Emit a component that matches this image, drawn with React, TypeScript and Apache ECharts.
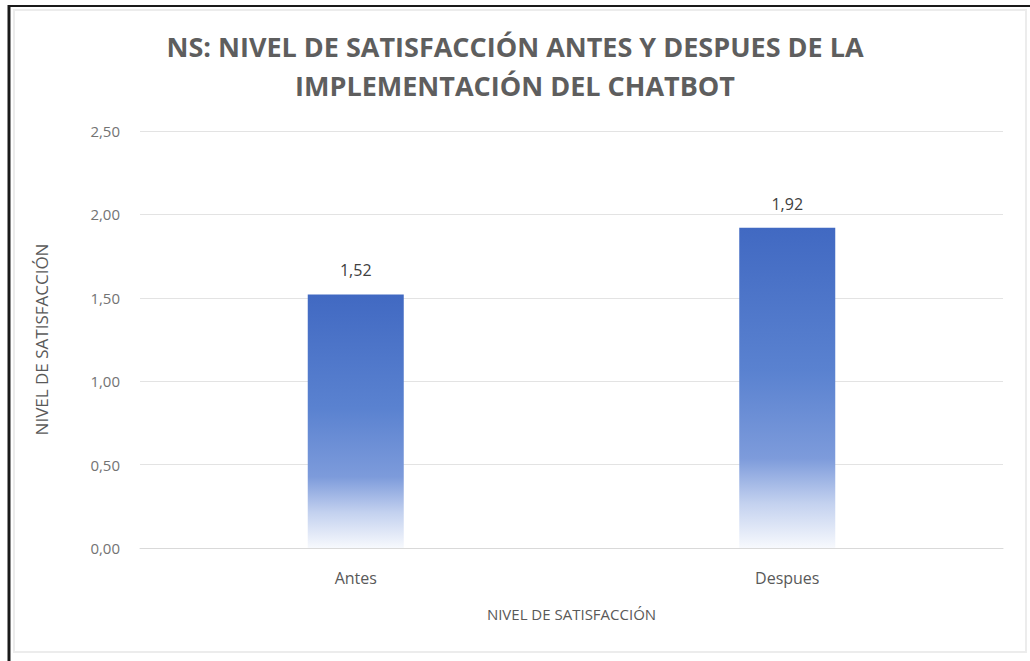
import React, { useEffect, useRef } from "react";
import * as echarts from "echarts";

const categories = ["Antes", "Despues"];
const values = [1.52, 1.92];
const yTicks = [0, 0.5, 1, 1.5, 2, 2.5];
const titleText = "NS: NIVEL DE SATISFACCIÓN ANTES Y DESPUES DE LA\nIMPLEMENTACIÓN DEL CHATBOT";
const xAxisName = "NIVEL DE SATISFACCIÓN";
const yAxisName = "NIVEL DE SATISFACCIÓN";

const fmt = (v: number) => v.toFixed(2).replace(".", ",");

export default function App() {
  const ref = useRef<HTMLDivElement>(null);
  useEffect(() => {
    if (!ref.current) return;
    const chart = echarts.init(ref.current, null, { renderer: "svg" });
    const font = "'Open Sans', 'Noto Sans', sans-serif";
    chart.setOption({
      animation: false,
      backgroundColor: "#ffffff",
      title: {
        text: titleText,
        left: "center",
        top: 22,
        textStyle: {
          fontFamily: font,
          fontSize: 27,
          fontWeight: "bold",
          color: "#5e5e5e",
          lineHeight: 39,
        },
      },
      grid: { left: 140, right: 27, top: 131, bottom: 113 },
      xAxis: {
        type: "category",
        data: categories,
        name: xAxisName,
        nameLocation: "middle",
        nameGap: 58,
        nameTextStyle: { fontFamily: font, fontSize: 15, color: "#595959" },
        axisLine: { lineStyle: { color: "#d9d9d9", width: 1 } },
        axisTick: { show: false },
        axisLabel: { fontFamily: font, fontSize: 16, color: "#595959", margin: 22 },
      },
      yAxis: {
        type: "value",
        min: 0,
        max: yTicks[yTicks.length - 1],
        interval: 0.5,
        name: yAxisName,
        nameLocation: "middle",
        nameGap: 90,
        nameTextStyle: { fontFamily: font, fontSize: 17, color: "#595959" },
        axisLine: { show: false },
        axisTick: { show: false },
        splitLine: { lineStyle: { color: "#e3e3e3", width: 1 } },
        axisLabel: {
          fontFamily: font,
          fontSize: 15,
          color: "#737373",
          margin: 20,
          formatter: (v: number) => fmt(v),
        },
      },
      series: [
        {
          type: "bar",
          data: values,
          barWidth: 96,
          itemStyle: {
            color: new echarts.graphic.LinearGradient(0, 0, 0, 1, [
              { offset: 0, color: "#4169c2" },
              { offset: 0.45, color: "#5a82d0" },
              { offset: 0.72, color: "#7d9bdb" },
              { offset: 0.86, color: "#c3d1ef" },
              { offset: 1, color: "#f7f9fd" },
            ]),
          },
          label: {
            show: true,
            position: "top",
            distance: 16,
            fontFamily: font,
            fontSize: 16,
            color: "#404040",
            formatter: (p: any) => fmt(p.value),
          },
        },
      ],
      graphic: [
        {
          type: "rect",
          shape: { x: 14, y: 10, width: 1012, height: 642 },
          style: { fill: "none", stroke: "#ececec", lineWidth: 2 },
          silent: true,
        },
        {
          type: "line",
          shape: { x1: 8, y1: 6, x2: 1030, y2: 6 },
          style: { stroke: "#1a1a1a", lineWidth: 2 },
          silent: true,
        },
        {
          type: "line",
          shape: { x1: 9, y1: 5, x2: 9, y2: 661 },
          style: { stroke: "#1a1a1a", lineWidth: 3 },
          silent: true,
        },
      ],
    });
    return () => chart.dispose();
  }, []);
  return (
    <div style={{ position: "fixed", left: 0, top: 0 }}>
      <div ref={ref} style={{ width: 1030, height: 661 }} />
    </div>
  );
}
